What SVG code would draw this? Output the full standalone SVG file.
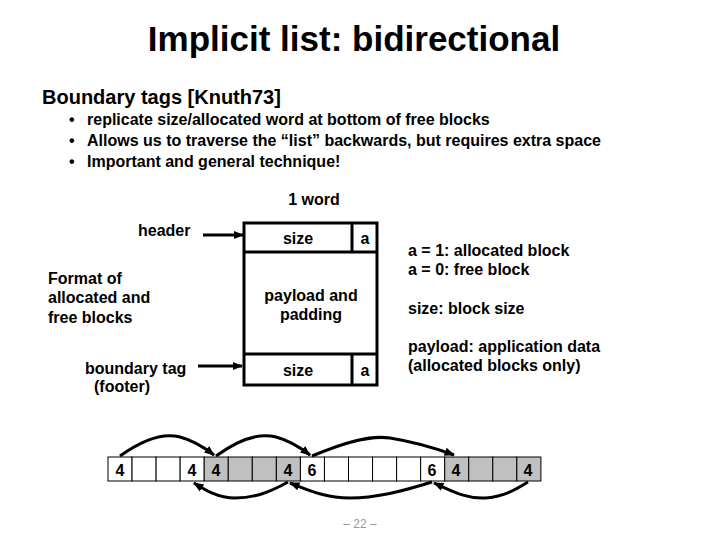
<svg xmlns="http://www.w3.org/2000/svg" width="720" height="540" viewBox="0 0 720 540">
<style>
text{font-family:"Liberation Sans",Arial,sans-serif;font-weight:bold;fill:#000}
.t16{font-size:16px}
.b{font-size:16px}
.c{text-anchor:middle}
.box{fill:#fff;stroke:#000;stroke-width:3}
.cell{fill:#fff;stroke:#000;stroke-width:1}
.g{fill:#c0c0c0}
.con{fill:none;stroke:#000;stroke-width:3}
.ptr{fill:none;stroke:#000;stroke-width:3}
</style>
<defs>
<marker id="ah2" viewBox="0 0 10 10" refX="9" refY="5" markerWidth="3.5" markerHeight="3.5" orient="auto" markerUnits="strokeWidth">
<path d="M0,1 L10,5 L0,9 z" fill="#000"/>
</marker>
</defs>
<rect width="720" height="540" fill="#fff"/>
<text x="354" y="51" class="c" style="font-size:35px">Implicit list: bidirectional</text>
<text x="42" y="104" style="font-size:20px">Boundary tags [Knuth73]</text>
<g class="b">
<text x="69" y="125">•</text><text x="87" y="125">replicate size/allocated word at bottom of free blocks</text>
<text x="69" y="146">•</text><text x="87" y="146">Allows us to traverse the “list” backwards, but requires extra space</text>
<text x="69" y="167">•</text><text x="87" y="167">Important and general technique!</text>
</g>
<g id="labels" class="t16">
<text x="314" y="205" class="c">1 word</text>
<text x="138" y="236">header</text>
<text x="48" y="284">Format of</text>
<text x="48" y="303">allocated and</text>
<text x="48" y="323">free blocks</text>
<text x="85" y="374">boundary tag</text>
<text x="94" y="392">(footer)</text>
<text x="408" y="256">a = 1: allocated block</text>
<text x="408" y="275">a = 0: free block</text>
<text x="408" y="314">size: block size</text>
<text x="408" y="352">payload: application data</text>
<text x="408" y="371">(allocated blocks only)</text>
</g>
<g id="block">
<rect class="box" x="244" y="223" width="133" height="162"/>
<line x1="244" y1="252" x2="377" y2="252" stroke="#000" stroke-width="3"/>
<line x1="244" y1="354" x2="377" y2="354" stroke="#000" stroke-width="3"/>
<line x1="352" y1="223" x2="352" y2="252" stroke="#000" stroke-width="3"/>
<line x1="352" y1="354" x2="352" y2="385" stroke="#000" stroke-width="3"/>
<text x="298" y="244" class="t16 c">size</text>
<text x="365" y="244" class="t16 c">a</text>
<text x="311" y="301" class="t16 c">payload and</text>
<text x="311" y="320" class="t16 c">padding</text>
<text x="298" y="376" class="t16 c">size</text>
<text x="365" y="376" class="t16 c">a</text>
</g>
<g id="connectors">
<line class="con" x1="203" y1="235" x2="243" y2="235" marker-end="url(#ah2)"/>
<line class="con" x1="198" y1="366" x2="242" y2="366" marker-end="url(#ah2)"/>
</g>
<g id="heap">
<rect class="cell" x="108" y="457" width="24.05" height="24"/>
<rect class="cell" x="132.05" y="457" width="24.05" height="24"/>
<rect class="cell" x="156.1" y="457" width="24.05" height="24"/>
<rect class="cell" x="180.15" y="457" width="24.05" height="24"/>
<rect class="cell g" x="204.2" y="457" width="24.05" height="24"/>
<rect class="cell g" x="228.25" y="457" width="24.05" height="24"/>
<rect class="cell g" x="252.3" y="457" width="24.05" height="24"/>
<rect class="cell g" x="276.35" y="457" width="24.05" height="24"/>
<rect class="cell" x="300.4" y="457" width="24.05" height="24"/>
<rect class="cell" x="324.45" y="457" width="24.05" height="24"/>
<rect class="cell" x="348.5" y="457" width="24.05" height="24"/>
<rect class="cell" x="372.55" y="457" width="24.05" height="24"/>
<rect class="cell" x="396.6" y="457" width="24.05" height="24"/>
<rect class="cell" x="420.65" y="457" width="24.05" height="24"/>
<rect class="cell g" x="444.7" y="457" width="24.05" height="24"/>
<rect class="cell g" x="468.75" y="457" width="24.05" height="24"/>
<rect class="cell g" x="492.8" y="457" width="24.05" height="24"/>
<rect class="cell g" x="516.85" y="457" width="24.05" height="24"/>
<g class="t16 c">
<text x="120" y="476">4</text>
<text x="192" y="476">4</text>
<text x="216" y="476">4</text>
<text x="288" y="476">4</text>
<text x="312" y="476">6</text>
<text x="432" y="476">6</text>
<text x="456" y="476">4</text>
<text x="528" y="476">4</text>
</g>
</g>
<g id="pointers">
<path class="ptr" d="M120,456 C145,438 165,433 180,437 C195,441 205,448 214,455" marker-end="url(#ah2)"/>
<path class="ptr" d="M216,456 C241,438 261,433 276,437 C291,441 301,448 310,455" marker-end="url(#ah2)"/>
<path class="ptr" d="M312,456 C345,442 370,435 390,438 C415,442 435,448 454,455" marker-end="url(#ah2)"/>
<path class="ptr" d="M528,482 C515,490 503,497 485,498 C465,499 450,490 434,483" marker-end="url(#ah2)"/>
<path class="ptr" d="M432,482 C400,492 375,498 350,498 C325,498 308,490 290,483" marker-end="url(#ah2)"/>
<path class="ptr" d="M288,482 C270,492 255,498 235,498 C218,498 205,490 194,483" marker-end="url(#ah2)"/>
</g>
<text x="360" y="528" class="c" style="font-size:12px;font-weight:normal;fill:#999">– 22 –</text>
</svg>
